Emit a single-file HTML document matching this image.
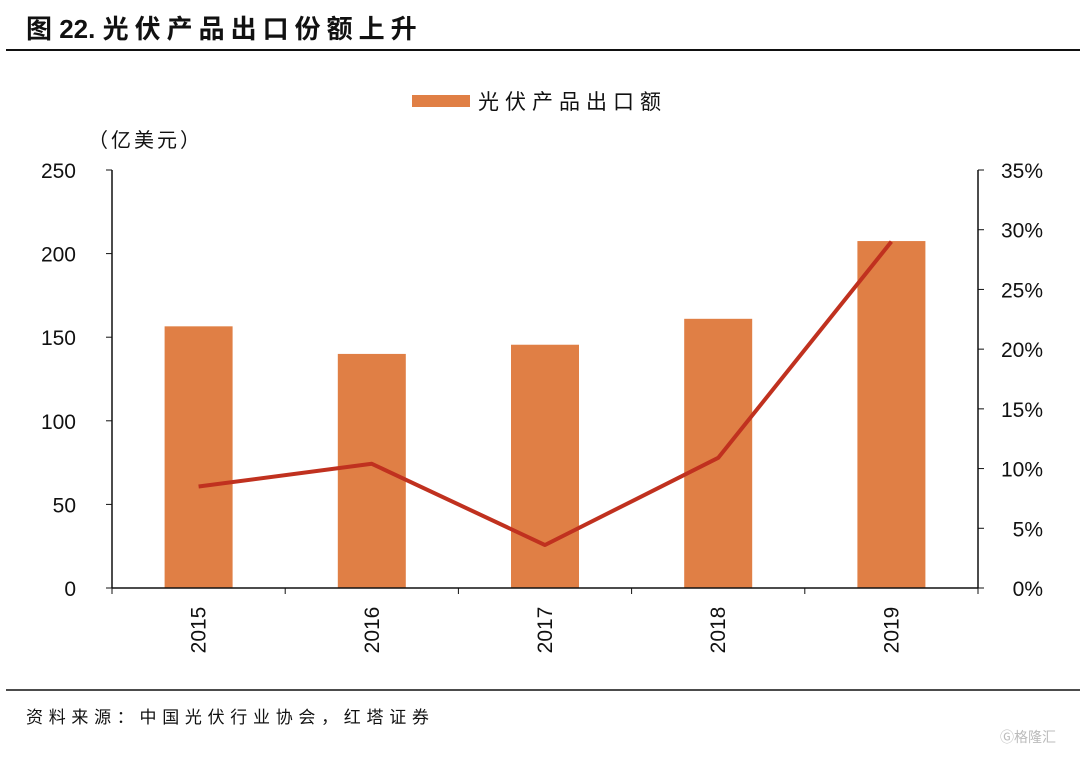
<!DOCTYPE html>
<html><head><meta charset="utf-8"><style>
body{margin:0;background:#fff;width:1080px;height:755px;overflow:hidden;font-family:"Liberation Sans","Noto Sans CJK SC",sans-serif;}
svg text{font-family:"Liberation Sans","Noto Sans CJK SC",sans-serif;}
</style></head><body>
<svg id="chart" width="1080" height="755">
<text x="26" y="38" font-size="26" font-weight="bold" fill="#111">图 22. <tspan letter-spacing="6">光伏产品出口份额上升</tspan></text>
<line x1="6" y1="50" x2="1080" y2="50" stroke="#111" stroke-width="2"/>
<rect x="412" y="95" width="58" height="12" fill="#E07F45"/>
<text x="478" y="109" font-size="21" fill="#111" letter-spacing="6">光伏产品出口额</text>
<text x="88" y="147" font-size="20" fill="#111" letter-spacing="3">（亿美元）</text>
<g id="plot"></g>
<line x1="6" y1="690" x2="1080" y2="690" stroke="#111" stroke-width="1.5"/>
<text x="26" y="723" font-size="17" fill="#111" letter-spacing="5.7">资料来源：中国光伏行业协会，红塔证券</text>
<text x="1000" y="742" font-size="14" fill="#bbb">Ⓖ格隆汇</text>
</svg>
<script>
const categories=["2015","2016","2017","2018","2019"];
const exportValues=[156.5,140,145.5,161,207.5];
const shareValues=[8.5,10.4,3.6,10.9,29.0];
const leftTicks=[0,50,100,150,200,250];
const rightTicks=[0,5,10,15,20,25,30,35];
const NS="http://www.w3.org/2000/svg";
const g=document.getElementById("plot");
const x0=112,x1=978,yTop=170,yBot=588;
const yL=v=>yBot-(v/250)*(yBot-yTop);
const yR=v=>yBot-(v/35)*(yBot-yTop);
const band=(x1-x0)/categories.length;
const xC=i=>x0+band*(i+0.5);
function mk(t,a){const e=document.createElementNS(NS,t);for(const k in a)e.setAttribute(k,a[k]);g.appendChild(e);return e;}
categories.forEach((c,i)=>{
 const r=mk("rect",{x:xC(i)-34,y:yL(exportValues[i]),width:68,height:yBot-yL(exportValues[i]),fill:"#E07F45"});
 
 
 const t=mk("text",{x:0,y:0,"font-size":21,fill:"#111","text-anchor":"middle",transform:`translate(${xC(i)+7},630) rotate(-90)`});
 t.textContent=c;
 
 
});
const axL=mk("line",{x1:x0,y1:yTop,x2:x0,y2:yBot,stroke:"#111","stroke-width":1.5});


const axR=mk("line",{x1:x1,y1:yTop,x2:x1,y2:yBot,stroke:"#111","stroke-width":1.5});


const axX=mk("line",{x1:x0,y1:yBot,x2:x1,y2:yBot,stroke:"#111","stroke-width":1.5});


leftTicks.forEach(v=>{
 mk("line",{x1:x0-6,y1:yL(v),x2:x0,y2:yL(v),stroke:"#111"});
 const t=mk("text",{x:76,y:yL(v)+8,"font-size":21,fill:"#111","text-anchor":"end"});
 t.textContent=v;
 
 
});
rightTicks.forEach(v=>{
 mk("line",{x1:x1,y1:yR(v),x2:x1+6,y2:yR(v),stroke:"#111"});
 const t=mk("text",{x:1043,y:yR(v)+8,"font-size":21,fill:"#111","text-anchor":"end"});
 t.textContent=v+"%";
 
 
});
for(let i=0;i<=categories.length;i++){mk("line",{x1:x0+band*i,y1:yBot,x2:x0+band*i,y2:yBot+6,stroke:"#111"});}
const pts=shareValues.map((v,i)=>xC(i)+","+yR(v)).join(" ");
const pl=mk("polyline",{points:pts,fill:"none",stroke:"#C0311F","stroke-width":4,"stroke-linejoin":"round"});


</script>
</body></html>
